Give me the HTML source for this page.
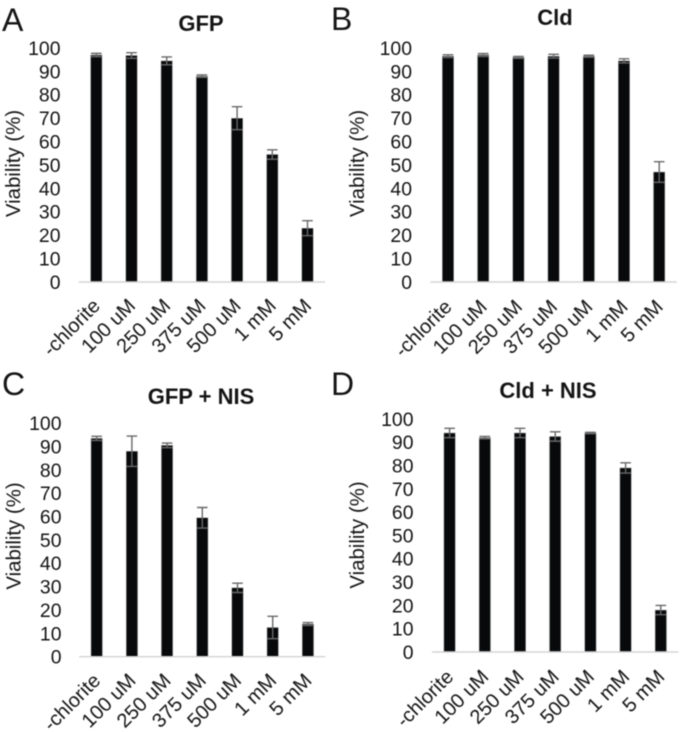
<!DOCTYPE html>
<html lang="en">
<head>
<meta charset="utf-8">
<title>Viability charts</title>
<style>
html,body{margin:0;padding:0;background:#fff;width:680px;height:732px;overflow:hidden}
svg{display:block;filter:blur(.4px)}
text{font-family:"Liberation Sans",sans-serif;fill:#141414}
.tick{font-size:19.4px;text-anchor:end}
.cat{font-size:20px;text-anchor:end}
.ytitle{font-size:20.4px;text-anchor:middle}
.title{font-size:22px;font-weight:bold;text-anchor:middle}
.letter{font-size:32px}
</style>
</head>
<body>
<svg id="figure" width="680" height="732" viewBox="0 0 680 732" xmlns="http://www.w3.org/2000/svg">
  <g id="panel-a">
    <text class="letter" x="2" y="31">A</text>
    <text class="title" x="201" y="31">GFP</text>
    <text class="ytitle" transform="translate(20,163.5) rotate(-90)">Viability (%)</text>
  </g>
  <g id="panel-b">
    <text class="letter" x="331" y="30">B</text>
    <text class="title" x="555" y="25">Cld</text>
    <text class="ytitle" transform="translate(364,163.5) rotate(-90)">Viability (%)</text>
  </g>
  <g id="panel-c">
    <text class="letter" x="2" y="395">C</text>
    <text class="title" x="201" y="404">GFP + NIS</text>
    <text class="ytitle" transform="translate(20.5,536) rotate(-90)">Viability (%)</text>
  </g>
  <g id="panel-d">
    <text class="letter" x="331" y="395">D</text>
    <text class="title" x="548" y="398">Cld + NIS</text>
    <text class="ytitle" transform="translate(364,535) rotate(-90)">Viability (%)</text>
  </g>
</svg>
<script>
const categories = ['-chlorite', '100 uM', '250 uM', '375 uM', '500 uM', '1 mM', '5 mM'];
const yTickValues = [0, 10, 20, 30, 40, 50, 60, 70, 80, 90, 100];

const gfpMeans = [97, 96.8, 94.5, 88, 70, 54.5, 23];
const gfpErrors = [0.7, 1.2, 1.7, 0.5, 4.9, 2, 3.2];

const cldMeans = [96.5, 97, 96, 96.5, 96.5, 94.5, 47];
const cldErrors = [0.6, 0.6, 0.4, 0.8, 0.4, 0.9, 4.4];

const gfpNisMeans = [93.5, 88, 90.5, 59.5, 29.5, 12.5, 14];
const gfpNisErrors = [0.9, 6.5, 1, 4.4, 2, 4.8, 0.6];

const cldNisMeans = [94, 92, 94, 92.5, 94, 79, 18];
const cldNisErrors = [2, 0.5, 2, 2, 0.3, 2.2, 2];

const SVG_NS = 'http://www.w3.org/2000/svg';
const STEP = 35.2;
const BAR_WIDTH = 11.4;
const CAP_HALF = 5.3;

function makeNode(tag, parent, attrs) {
  const node = document.createElementNS(SVG_NS, tag);
  Object.keys(attrs).forEach(function (key) { node.setAttribute(key, attrs[key]); });
  parent.appendChild(node);
  return node;
}

function drawPanel(groupId, key, means, errors, layout) {
  const group = document.getElementById(groupId);
  const xScale = function (i) { return layout.left + STEP * (i + 0.5); };
  const yScale = function (v) { return layout.base - v * layout.unit; };

  yTickValues.forEach(function (value) {
    const label = makeNode('text', group, { class: 'tick', x: layout.tickRight, y: yScale(value) + 6.9 });
    
    
    label.textContent = value;
  });

  means.forEach(function (mean, i) {
    const cx = xScale(i);
    const top = yScale(mean);
    const bar = makeNode('rect', group, {
      x: cx - BAR_WIDTH / 2, y: top, width: BAR_WIDTH, height: layout.base - top,
      fill: '#07090b', stroke: '#a8a8a8', 'stroke-width': 0.5
    });
    
    

    const hi = yScale(mean + errors[i]);
    const lo = yScale(mean - errors[i]);
    const path = 'M' + cx + ' ' + hi + 'V' + lo +
      'M' + (cx - CAP_HALF) + ' ' + hi + 'H' + (cx + CAP_HALF) +
      'M' + (cx - CAP_HALF) + ' ' + lo + 'H' + (cx + CAP_HALF);
    const err = makeNode('path', group, { d: path, fill: 'none', stroke: '#686868', 'stroke-width': 1.4 });
    
    

    const ax = cx + 5;
    const ay = layout.base + layout.labelDrop;
    const cat = makeNode('text', group, { class: 'cat', x: ax, y: ay, transform: 'rotate(-45 ' + ax + ' ' + ay + ')' });
    
    
    cat.textContent = categories[i];
  });

  const axis = makeNode('line', group, {
    x1: layout.left, x2: layout.left + STEP * means.length,
    y1: layout.base, y2: layout.base, stroke: '#d4d4d4', 'stroke-width': 1.4
  });
  
  
}

drawPanel('panel-a', 'gfp', gfpMeans, gfpErrors, { left: 78.7, base: 282, unit: 2.34, tickRight: 60.5, labelDrop: 25 });
drawPanel('panel-b', 'cld', cldMeans, cldErrors, { left: 430.4, base: 282, unit: 2.34, tickRight: 412, labelDrop: 26 });
drawPanel('panel-c', 'gfp-nis', gfpNisMeans, gfpNisErrors, { left: 79.1, base: 656.7, unit: 2.335, tickRight: 61.5, labelDrop: 25 });
drawPanel('panel-d', 'cld-nis', cldNisMeans, cldNisErrors, { left: 432, base: 652, unit: 2.33, tickRight: 413.5, labelDrop: 26 });
</script>
</body>
</html>
